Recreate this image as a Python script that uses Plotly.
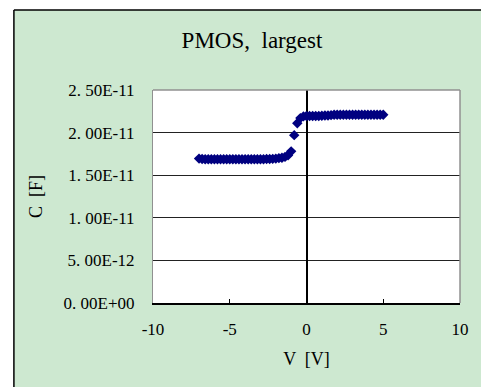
import plotly.graph_objects as go

V = [-7.0, -6.8, -6.6, -6.4, -6.2, -6.0, -5.8, -5.6, -5.4, -5.2,
     -5.0, -4.8, -4.6, -4.4, -4.2, -4.0, -3.8, -3.6, -3.4, -3.2,
     -3.0, -2.8, -2.6, -2.4, -2.2, -2.0, -1.8, -1.6, -1.4, -1.2,
     -1.0, -0.8, -0.6, -0.4, -0.2, 0.0, 0.2, 0.4, 0.6, 0.8,
     1.0, 1.2, 1.4, 1.6, 1.8, 2.0, 2.2, 2.4, 2.6, 2.8,
     3.0, 3.2, 3.4, 3.6, 3.8, 4.0, 4.2, 4.4, 4.6, 4.8, 5.0]
C = [1.695e-11, 1.690e-11, 1.688e-11, 1.688e-11, 1.688e-11, 1.688e-11, 1.688e-11, 1.688e-11, 1.688e-11, 1.688e-11,
     1.688e-11, 1.688e-11, 1.688e-11, 1.688e-11, 1.688e-11, 1.688e-11, 1.688e-11, 1.688e-11, 1.688e-11, 1.688e-11,
     1.688e-11, 1.688e-11, 1.690e-11, 1.690e-11, 1.692e-11, 1.695e-11, 1.700e-11, 1.705e-11, 1.715e-11, 1.735e-11,
     1.780e-11, 1.970e-11, 2.110e-11, 2.170e-11, 2.190e-11, 2.195e-11, 2.195e-11, 2.195e-11, 2.195e-11, 2.195e-11,
     2.198e-11, 2.200e-11, 2.200e-11, 2.205e-11, 2.210e-11, 2.210e-11, 2.210e-11, 2.210e-11, 2.210e-11, 2.210e-11,
     2.210e-11, 2.210e-11, 2.210e-11, 2.210e-11, 2.210e-11, 2.210e-11, 2.210e-11, 2.210e-11, 2.210e-11, 2.210e-11, 2.210e-11]

y_tickvals = [0, 5e-12, 1e-11, 1.5e-11, 2e-11, 2.5e-11]
y_ticktext = ["0. 00E+00", "5. 00E-12", "1. 00E-11", "1. 50E-11", "2. 00E-11", "2. 50E-11"]
x_tickvals = [-10, -5, 0, 5, 10]
x_ticktext = ["-10", "-5", "0", "5", "10"]

W, H = 481, 387
L, R, T, B = 153, 19, 90, 84
pw, ph = W - L - R, H - T - B

def px(x):
    return (x - L) / pw

def py(y):
    return (H - B - y) / ph

FONT = "Liberation Serif"
GREEN = "#cde8d0"

fig = go.Figure()
fig.add_trace(go.Scatter(
    x=V, y=C, mode="markers",
    marker=dict(symbol="diamond", size=8, color="#000080",
                line=dict(width=0)),
    showlegend=False, hoverinfo="skip"))

shapes = [
    dict(type="rect", xref="paper", yref="paper", x0=px(-5), x1=px(13),
         y0=py(H + 5), y1=py(-5), fillcolor="white", line=dict(width=0), layer="below"),
    dict(type="rect", xref="paper", yref="paper", x0=px(-5), x1=px(W + 5),
         y0=py(10), y1=py(-5), fillcolor="white", line=dict(width=0), layer="below"),
    dict(type="line", xref="paper", yref="paper", x0=px(13), x1=px(13),
         y0=py(H + 5), y1=py(10), line=dict(color="black", width=1.5)),
    dict(type="line", xref="paper", yref="paper", x0=px(13), x1=px(W + 5),
         y0=py(10), y1=py(10), line=dict(color="black", width=1.5)),
    dict(type="line", xref="paper", yref="paper", x0=0, x1=1, y0=1, y1=1,
         line=dict(color="#909090", width=1.5)),
    dict(type="line", xref="paper", yref="paper", x0=1, x1=1, y0=0, y1=1,
         line=dict(color="#909090", width=1.5)),
]

fig.update_layout(
    width=W, height=H,
    margin=dict(l=L, r=R, t=T, b=B, pad=0),
    paper_bgcolor=GREEN, plot_bgcolor="white",
    shapes=shapes,
    title=dict(text="PMOS,  largest", x=252 / W, xanchor="center",
               y=1 - 40 / H, yanchor="middle",
               font=dict(family=FONT, size=23, color="black")),
    xaxis=dict(range=[-10, 10], tickvals=x_tickvals, ticktext=x_ticktext,
               showgrid=False, zeroline=True, zerolinecolor="black", zerolinewidth=1.5,
               showline=True, linecolor="black", linewidth=1.5, mirror=False,
               ticks="inside", ticklen=4, tickcolor="black", ticklabelstandoff=10,
               tickfont=dict(family=FONT, size=17, color="black"),
               title=dict(text="V  [V]", font=dict(family=FONT, size=18, color="black"), standoff=14),
               fixedrange=True),
    yaxis=dict(range=[0, 2.5e-11], tickvals=y_tickvals, ticktext=y_ticktext,
               showgrid=True, gridcolor="#222222", gridwidth=1,
               zeroline=False, showline=True, linecolor="#909090", linewidth=1, mirror=False,
               ticks="", ticklabelstandoff=14,
               tickfont=dict(family=FONT, size=17, color="black"),
               title=dict(text="C  [F]", font=dict(family=FONT, size=18, color="black"), standoff=16),
               fixedrange=True),
)

fig.write_html("out.html", config={"displayModeBar": False},
               post_script="document.body.style.margin='0';document.body.style.overflow='hidden';")
